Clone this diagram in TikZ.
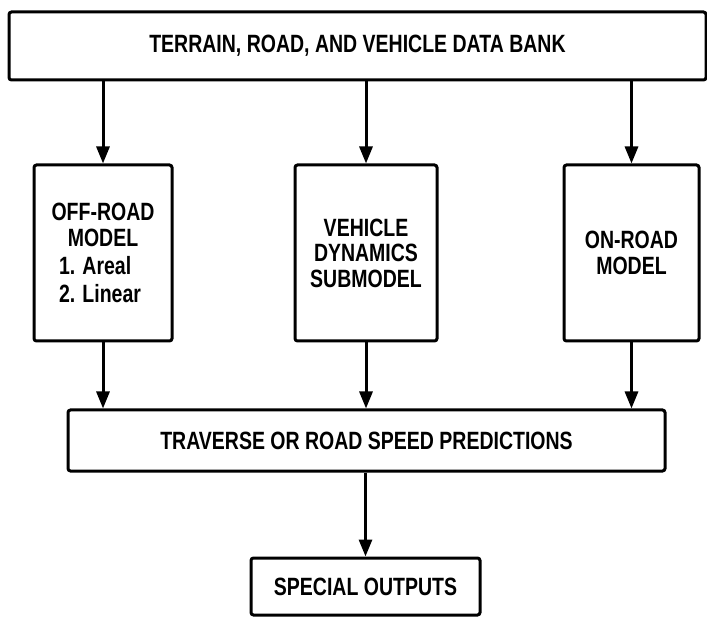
\documentclass[tikz,border=0pt]{standalone}
\usepackage{fontspec}
\setmainfont{Liberation Sans}[FakeStretch=0.78]
\usepackage{tikz}
\usetikzlibrary{arrows.meta}
\tikzset{
    tnode/.style = {align=center, inner sep=0pt, text centered, font=\bfseries\fontsize{25}{25.5}\selectfont},
    block/.style = {tnode, rectangle, draw=black, line width=3pt, rounded corners=2.5pt},
    model_block/.style = {block, minimum height=176pt},
    flow/.style = {line width=3pt, -{Triangle[length=17pt, width=13pt]}}
}
\newcommand{\listline}[1]{\makebox[88pt][l]{#1}}
\begin{document}
\begin{tikzpicture}[x=1pt, y=-1pt]
    \useasboundingbox (0,0) rectangle (707,617);
    \node [block, minimum width=697pt, minimum height=68pt] (bank) at (357.5,46) {TERRAIN, ROAD, AND VEHICLE DATA BANK};
    \node [model_block, minimum width=138pt] (offroad) at (103,253)
        {OFF-ROAD\\MODEL\\[3pt]\listline{1. Areal}\\[2pt]\listline{2. Linear}};
    \node [model_block, minimum width=142pt] (dynamics) at (366,253) {VEHICLE\\DYNAMICS\\SUBMODEL};
    \node [model_block, minimum width=135pt] (onroad) at (631.5,253) {ON-ROAD\\MODEL};
    \node [block, minimum width=597pt, minimum height=61pt] (speed) at (366.5,440.5) {TRAVERSE OR ROAD SPEED PREDICTIONS};
    \node [block, minimum width=229pt, minimum height=57pt] (outputs) at (365.5,586.5) {SPECIAL OUTPUTS};
    \foreach \m in {offroad, dynamics, onroad} {
        \draw [flow] (bank.south -| \m.north) -- (\m.north);
        \draw [flow] (\m.south) -- (\m.south |- speed.north);
    }
    \draw [flow] (speed.south -| outputs.north) -- (outputs.north);
\end{tikzpicture}
\end{document}
